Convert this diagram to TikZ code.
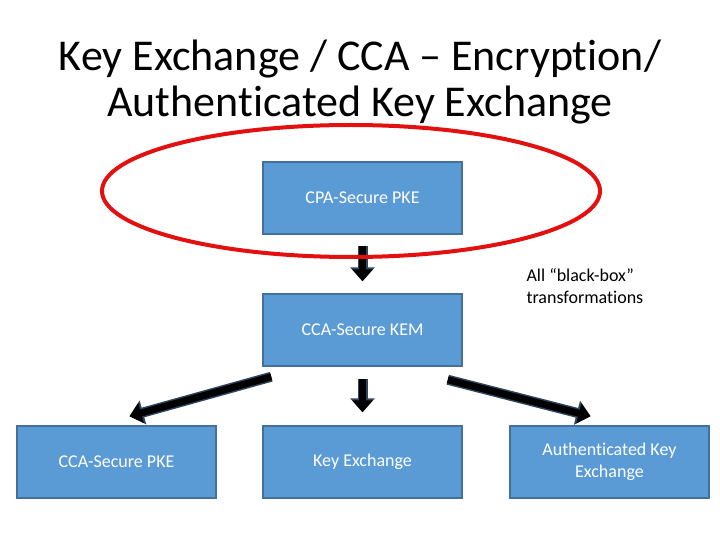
\documentclass[tikz,border=0pt]{standalone}
\usepackage{fontspec}
\setmainfont{Carlito}[Ligatures={NoCommon}]
\usetikzlibrary{arrows.meta}
\definecolor{boxfill}{HTML}{5B9BD5}
\definecolor{boxedge}{HTML}{41719C}
\definecolor{ringred}{HTML}{E31010}
\definecolor{arrowedge}{HTML}{2E4660}

\begin{document}
\begin{tikzpicture}[x=1pt,y=-1pt,
  blockbox/.style={draw=boxedge,fill=boxfill,line width=1.5pt,minimum width=199pt,minimum height=72pt,text=white,align=center,font=\fontsize{18}{22}\selectfont},
  blockarrow/.style={line width=7pt,-{Triangle[length=12pt,width=20pt]},
    preaction={draw=arrowedge,line width=10pt,-{Triangle[length=14pt,width=24pt]}}}]
\useasboundingbox (0,0) rectangle (720,540);

\node[font=\fontsize{44}{46}\selectfont,align=center] (title) at (360,82) {Key Exchange / CCA -- Encryption/\\Authenticated Key Exchange};

\node[blockbox] (cpa) at (362.5,198) {CPA-Secure PKE};
\node[blockbox] (kem) at (362.5,330) {CCA-Secure KEM};
\node[blockbox] (ccapke) at (116.5,462) {CCA-Secure PKE};
\node[blockbox] (kex) at (362.5,462) {Key Exchange};
\node[blockbox] (ake) at (609.5,462) {Authenticated Key\\Exchange};

\node[anchor=west,align=left,font=\fontsize{18}{22}\selectfont] (note) at (523,286) {All ``black-box''\\transformations};

\draw[blockarrow] ([yshift=-11pt]cpa.south) -- ([yshift=12pt]kem.north);
\draw[blockarrow] ([yshift=-12pt]kem.south) -- ([yshift=13pt]kex.north);
\draw[blockarrow] ([shift={(9pt,-10pt)}]kem.south west) -- ([shift={(13pt,9pt)}]ccapke.north);
\draw[blockarrow] ([shift={(-15pt,-13pt)}]kem.south east) -- ([shift={(-19pt,9pt)}]ake.north);

\draw[ringred,line width=4pt] (351,191) ellipse [x radius=249,y radius=66];
\end{tikzpicture}
\end{document}
